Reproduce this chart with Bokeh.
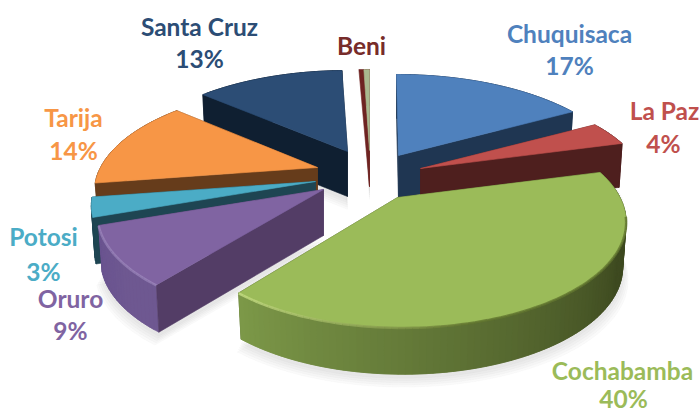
import math
from bokeh.plotting import figure
from bokeh.models import Range1d, ColumnDataSource
from bokeh.core.properties import value
from bokeh.embed import file_html
from bokeh.resources import INLINE

# ---- data ----
departments = ["Chuquisaca", "La Paz", "Cochabamba", "Oruro", "Potosi", "Tarija", "Santa Cruz", "Beni"]
shares = [16.9, 3.8, 40.0, 8.9, 3.0, 13.8, 13.1, 0.5]
share_labels = ["17%", "4%", "40%", "9%", "3%", "14%", "13%", ""]

# ---- styling ----
top_colors = ["#4F81BD", "#C0504D", "#9BBB59", "#8064A2", "#4BACC6", "#F79646", "#2C4D75", "#A9B98F"]
text_colors = ["#4F81BD", "#C0504D", "#9BBB59", "#8064A2", "#4BACC6", "#F79646", "#2C4D75", "#772C2A"]
flat_wall = ["#1F3652", "#4E1F1E", "#3E4A20", "#533D66", "#1E4552", "#663C1B", "#0F1F31", "#6E2422"]
rim_lo = ["#1F3652", "#4E1F1E", "#3E4A20", "#6E5891", "#1E4552", "#663C1B", "#0F1F31", "#6E2422"]
rim_hi = ["#1F3652", "#4E1F1E", "#7C9848", "#6A5490", "#1E4552", "#663C1B", "#0F1F31", "#6E2422"]
apex = [(398, 155), (420, 168), (397, 197), (323, 189), (315, 181), (317, 167), (347, 151), (369, 150)]
rim_shift = [-2, 1, 6, 1, 3, 4, 0, 0]
rim_scale = [1.015, 1, 0.98, 1, 1, 1, 1, 1]
depths = [44, 44, 45, 46, 46, 40, 45, 36]
name_pos = [(569, 33), (664, 110), (622, 370), (70, 298), (43, 236), (73, 117), (199, 26), (361, 45)]
pct_pos = [(569, 65), (663, 143), (623, 398), (70, 330), (43, 271), (73, 150), (199, 58), (361, 45)]
A, B, K = 221.0, 99.8, 0.232


def project(c, theta, dx=0, sc=1.0):
    X, Y = math.sin(theta), math.cos(theta)
    w = 1 + K * Y
    return c[0] + dx + sc * A * X / w, c[1] - B * Y / w


def mix(c1, c2, t):
    a = [int(c1[i:i + 2], 16) for i in (1, 3, 5)]
    b = [int(c2[i:i + 2], 16) for i in (1, 3, 5)]
    return "#%02x%02x%02x" % tuple(round(u + (v - u) * t) for u, v in zip(a, b))


xs, ys, fills, alphas = [], [], [], []


def add(pts, col, alpha=1.0):
    xs.append([q[0] for q in pts])
    ys.append([q[1] for q in pts])
    fills.append(col)
    alphas.append(alpha)


# slice geometry from the values
total = sum(shares)
spans, cum = [], 0.0
for s in shares:
    spans.append((cum / total * 2 * math.pi, (cum + s) / total * 2 * math.pi))
    cum += s


def slice_parts(i):
    t0, t1 = spans[i]
    n = max(4, int((t1 - t0) * 40))
    th = [t0 + (t1 - t0) * j / n for j in range(n + 1)]
    c = apex[i]
    rim = [project(c, t, rim_shift[i], rim_scale[i]) for t in th]
    d = depths[i]
    low = [(c[0] + (x - c[0]) * 0.985, y + d * (1 + 0.04 * max(0, (y - c[1]) / 130))) for x, y in rim]
    return c, d, rim, low, th


# soft shadows
for i in [2, 3, 0, 6, 7, 1, 5]:
    c, d, rim, low, _ = slice_parts(i)
    base = [(c[0], c[1] + d)] + low
    for k in range(5):
        grow = 1.0 + 0.006 * k
        off = 4 + k * 1.2
        add([(c[0] + (x - c[0]) * grow, y + off + k) for x, y in base], "#777777", 0.035)

# painter's order, back to front
highlights = []
for i in [7, 6, 0, 5, 4, 3, 1, 2]:
    c, d, rim, low, th = slice_parts(i)
    n = len(rim) - 1
    bottom = (c[0], c[1] + d)
    start_front = math.sin(spans[i][0]) < 0
    end_front = math.sin(spans[i][1]) > 0
    if not start_front:
        add([c, rim[0], low[0], bottom], flat_wall[i])
    if not end_front:
        add([c, rim[-1], low[-1], bottom], flat_wall[i])
    # outer curved wall; each quad overlaps the next so no seams show
    for j in range(n):
        t = max(0.0, (j / max(1, n - 1) - 0.3) / 0.7)
        e = min(j + 2, n)
        add([rim[j], rim[e], low[e], low[j]], mix(rim_lo[i], rim_hi[i], t))
    if start_front:
        add([c, rim[0], low[0], bottom], flat_wall[i])
    if end_front:
        add([c, rim[-1], low[-1], bottom], flat_wall[i])
    if i == 7:  # the sliver's dark wall shows left of its thin top face
        add([(rim[0][0] - 5, rim[0][1]), rim[0], bottom], flat_wall[i])
    # top face
    add([c] + rim, top_colors[i])
    if i in (2, 3):
        highlights.append((i, rim, th))

p = figure(width=699, height=413, x_range=Range1d(0, 699), y_range=Range1d(413, 0),
           output_backend="svg", toolbar_location=None, min_border=0, outline_line_color=None)
p.styles = {"position": "absolute", "left": "0px", "top": "0px"}
p.axis.visible = False
p.grid.visible = False
p.background_fill_color = "#ffffff"
p.border_fill_color = "#ffffff"

p.patches("xs", "ys", source=ColumnDataSource(dict(xs=xs, ys=ys, c=fills, a=alphas)),
          fill_color="c", fill_alpha="a", line_color="c", line_alpha="a", line_width=0.6)

# rim highlight: bright on the left, soft and dark on the right of the front edge
for i, rim, th in highlights:
    n = len(rim) - 1
    sx, sy, sc, sa = [], [], [], []
    for j in range(n):
        x0, y0 = rim[j]
        x1, y1 = rim[j + 1]
        mid = (x0 + x1) / 2
        if i == 2:
            f = max(0.0, min(1.0, (mid - 240) / 230))
            col = mix("#C6DE84", "#62752F", f)
            alpha = 0.8 if th[j] > math.radians(100) else 0.0
        else:
            col, alpha = "#A793C6", 0.55
        sx.append([x0, x1]); sy.append([y0 + 0.5, y1 + 0.5])
        sc.append(col); sa.append(alpha)
    p.multi_line("x", "y", source=ColumnDataSource(dict(x=sx, y=sy, c=sc, a=sa)),
                 line_color="c", line_alpha="a", line_width=2.5)

# texts
for i, name in enumerate(departments):
    p.text([name_pos[i][0]], [name_pos[i][1]], text=[name], text_color=text_colors[i],
           text_font=value("Lato"), text_font_style="bold", text_font_size="24.5px",
           text_align="center", text_baseline="middle")
    if share_labels[i]:
        p.text([pct_pos[i][0]], [pct_pos[i][1]], text=[share_labels[i]], text_color=text_colors[i],
               text_font=value("Lato"), text_font_style="bold", text_font_size="24.5px",
               text_align="center", text_baseline="middle")

open("out.html", "w").write(file_html(p, INLINE))
